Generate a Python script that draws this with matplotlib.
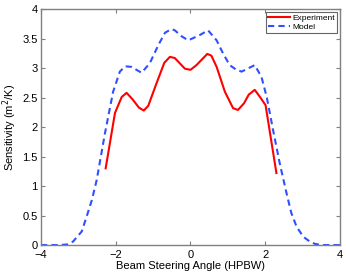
import matplotlib
matplotlib.use("Agg")
import matplotlib.pyplot as plt
from matplotlib.ticker import FormatStrFormatter, MultipleLocator

EXP_ANGLE = [-2.27, -2.02, -1.84, -1.71, -1.55, -1.38, -1.25, -1.13, -0.91,
             -0.70, -0.55, -0.42, -0.15, 0.0, 0.16, 0.45, 0.56, 0.70, 0.92,
             1.14, 1.27, 1.43, 1.56, 1.72, 1.86, 2.01, 2.30]
EXP_SENS = [1.30, 2.24, 2.51, 2.58, 2.47, 2.33, 2.28, 2.36, 2.74,
            3.09, 3.19, 3.17, 2.99, 2.97, 3.05, 3.24, 3.21, 3.02, 2.60,
            2.32, 2.29, 2.40, 2.55, 2.63, 2.51, 2.37, 1.22]

MODEL_ANGLE = [-4.0, -3.5, -3.3, -3.14, -2.91, -2.78, -2.64, -2.51, -2.29,
               -2.07, -1.89, -1.75, -1.58, -1.31, -1.09, -0.86, -0.68, -0.51,
               -0.42, -0.24, -0.06, 0.25, 0.47, 0.70, 0.87, 1.05, 1.23, 1.37,
               1.72, 1.90, 2.04, 2.21, 2.39, 2.57, 2.70, 2.84, 3.02, 3.19,
               3.33, 3.5, 4.0]
MODEL_SENS = [0.0, 0.0, 0.01, 0.06, 0.23, 0.48, 0.76, 1.10, 1.89,
              2.60, 2.94, 3.03, 3.02, 2.92, 3.08, 3.39, 3.60, 3.66,
              3.64, 3.54, 3.47, 3.56, 3.64, 3.47, 3.25, 3.05, 2.97, 2.94,
              3.05, 2.85, 2.51, 1.95, 1.38, 0.88, 0.54, 0.31, 0.14, 0.06,
              0.02, 0.0, 0.0]

plt.rcParams["font.family"] = ["Liberation Sans", "DejaVu Sans"]

fig = plt.figure(figsize=(3.46, 2.75), dpi=100)
ax = fig.add_axes([0.1185, 0.109, 0.864, 0.858])

ax.plot(EXP_ANGLE, EXP_SENS, color="#ff0000", linewidth=1.5, label="Experiment")
ax.plot(MODEL_ANGLE, MODEL_SENS, color="#3050ff", linewidth=1.5,
        linestyle=(0, (3, 2)), label="Model")

ax.set_xlim(-4, 4)
ax.set_ylim(0, 4)
ax.xaxis.set_major_locator(MultipleLocator(2))
ax.yaxis.set_major_locator(MultipleLocator(0.5))
ax.yaxis.set_major_formatter(FormatStrFormatter("%g"))
ax.tick_params(direction="in", top=True, right=True, length=3,
               labelsize=8, color="#808080")
ax.tick_params(axis="x", pad=3.5)
ax.tick_params(axis="y", pad=2.5)
for s in ax.spines.values():
    s.set_color("#808080")
    s.set_linewidth(1.0)

ax.set_xlabel("Beam Steering Angle (HPBW)", fontsize=8, labelpad=1)
ax.set_ylabel("Sensitivity (m$^2$/K)", fontsize=8, labelpad=2)

leg = ax.legend(loc="upper right", fontsize=6, frameon=True, fancybox=False,
                handlelength=2.6, handletextpad=0.3, borderpad=0.3,
                labelspacing=0.1, borderaxespad=0.3)
leg.get_frame().set_edgecolor("#404040")
leg.get_frame().set_linewidth(0.8)

fig.savefig("out.png", dpi=100)
